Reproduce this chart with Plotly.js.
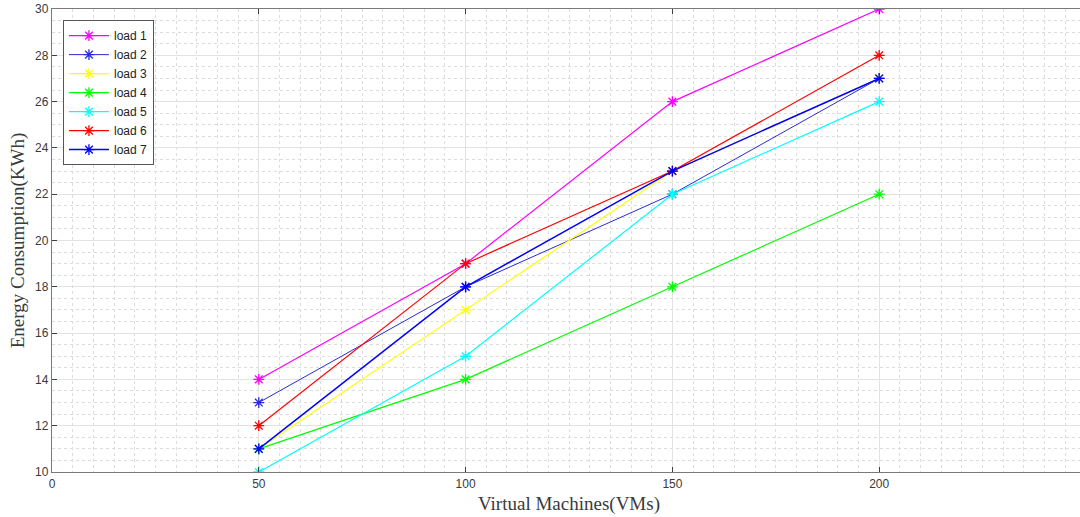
<!DOCTYPE html>
<html>
<head>
<meta charset="utf-8">
<script src="https://cdn.plot.ly/plotly-3.0.1.min.js"></script>
<style>
html,body{margin:0;padding:0;overflow:hidden;background:#fff;}
#chart{width:1100px;height:517px;}
</style>
</head>
<body>
<div id="chart"></div>
<script>
const vms = [50, 100, 150, 200];
const load1 = [14, 19, 26, 30];
const load2 = [13, 18, 22, 27];
const load3 = [11, 17, 23, 27];
const load4 = [11, 14, 18, 22];
const load5 = [10, 15, 22, 26];
const load6 = [12, 19, 23, 28];
const load7 = [11, 18, 23, 27];
const names = ['load 1','load 2','load 3','load 4','load 5','load 6','load 7'];
const series = [load1, load2, load3, load4, load5, load6, load7];
const colors = ['#ff00ff','#2b2bd6','#ffff00','#00ff00','#00ffff','#ff0000','#0000ff'];
const widths = [1.2, 1.0, 1.2, 1.2, 1.2, 1.2, 1.5];

const traces = series.map((ys, i) => ({
  x: vms, y: ys, name: names[i], type: 'scatter', mode: 'lines+markers',
  line: {color: colors[i], width: widths[i]},
  marker: {symbol: 'asterisk-open', size: 9, color: colors[i], line: {color: colors[i], width: 1.3}}
}));

const axisCommon = {
  showline: true, linecolor: '#7a7a7a', linewidth: 1.2, mirror: 'ticks',
  ticks: 'inside', ticklen: 5, tickcolor: '#404040', tickwidth: 1,
  showgrid: true, gridcolor: '#e2e2e2', gridwidth: 1, zeroline: false,
  tickfont: {family: 'Liberation Sans, Arial, sans-serif', size: 12, color: '#3a3a3a'}
};

const layout = {
  width: 1100, height: 517,
  margin: {l: 52, r: 14, t: 9, b: 45},
  paper_bgcolor: '#fff', plot_bgcolor: '#fff',
  showlegend: true,
  xaxis: Object.assign({}, axisCommon, {
    range: [0, 250], tickmode: 'array', tickvals: [0, 50, 100, 150, 200],
    ticktext: ['0', '50', '100', '150', '200'],
    minor: {dtick: 5, showgrid: true, gridcolor: '#dddddd', griddash: 'dot', gridwidth: 1},
    title: {text: 'Virtual Machines(VMs)', standoff: 7,
      font: {family: 'Liberation Serif, Times New Roman, serif', size: 19, color: '#3a3a3a'}}
  }),
  yaxis: Object.assign({}, axisCommon, {
    range: [10, 30], dtick: 2,
    minor: {dtick: 0.5, showgrid: true, gridcolor: '#dddddd', griddash: 'dot', gridwidth: 1},
    title: {text: 'Energy Consumption(KWh)', standoff: 5,
      font: {family: 'Liberation Serif, Times New Roman, serif', size: 19, color: '#3a3a3a'}}
  }),
  legend: {
    x: 0.0106, y: 0.976, xanchor: 'left', yanchor: 'top',
    bgcolor: '#ffffff', bordercolor: '#555555', borderwidth: 1,
    font: {family: 'Liberation Sans, Arial, sans-serif', size: 12, color: '#222'},
    itemwidth: 40, tracegroupgap: 0
  }
};

Plotly.newPlot('chart', traces, layout, {displayModeBar: false, staticPlot: true});
</script>
</body>
</html>
